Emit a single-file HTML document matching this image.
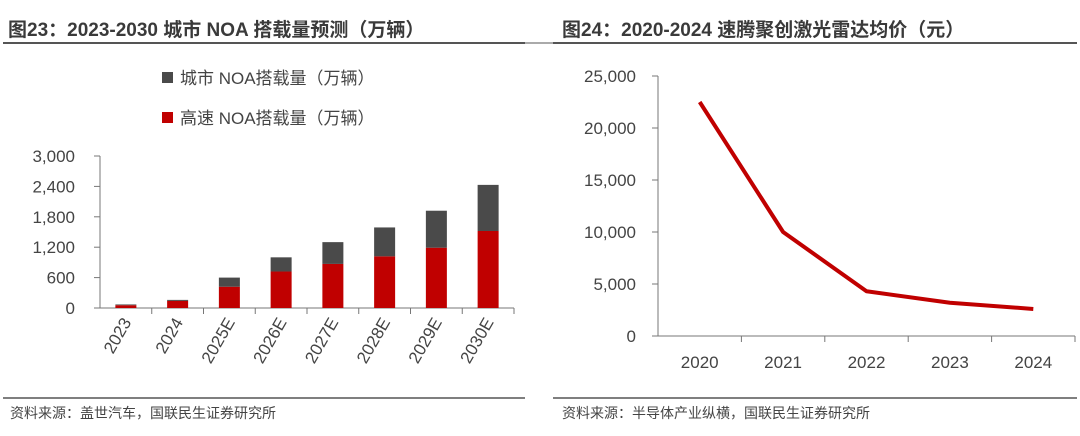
<!DOCTYPE html>
<html><head><meta charset="utf-8"><style>
body{margin:0;width:1080px;height:431px;background:#fff;font-family:"Liberation Sans","Noto Sans CJK SC",sans-serif;overflow:hidden}
svg text{font-family:"Liberation Sans","Noto Sans CJK SC",sans-serif}
</style></head><body>
<svg width="1080" height="431">
<text x="8" y="36" font-size="19" font-weight="bold" fill="#3a3a3a">图23：2023-2030 城市 NOA 搭载量预测（万辆）</text>
<line x1="3" y1="43" x2="525" y2="43" stroke="#555" stroke-width="2"/>
<line x1="525" y1="43" x2="553" y2="43" stroke="#555" stroke-width="1"/>
<text x="562" y="36" font-size="19" font-weight="bold" fill="#3a3a3a">图24：2020-2024 速腾聚创激光雷达均价（元）</text>
<line x1="553" y1="43" x2="1077" y2="43" stroke="#555" stroke-width="2"/>
<line x1="3" y1="398" x2="525" y2="398" stroke="#555" stroke-width="1.5"/>
<line x1="553" y1="398" x2="1077" y2="398" stroke="#555" stroke-width="1.5"/>
<text x="10" y="418" font-size="14" fill="#444">资料来源：盖世汽车，国联民生证券研究所</text>
<text x="562" y="418" font-size="14" fill="#444">资料来源：半导体产业纵横，国联民生证券研究所</text>
<g id="left"></g><g id="right"></g>
</svg>
<script>
const categories=["2023","2024","2025E","2026E","2027E","2028E","2029E","2030E"];
const highwayNOA=[55,140,420,720,870,1020,1190,1520];
const cityNOA=[15,20,180,280,430,570,730,910];
const leftTicks=[0,600,1200,1800,2400,3000];
const years=["2020","2021","2022","2023","2024"];
const prices=[22500,10000,4300,3200,2600];
const rightTicks=[0,5000,10000,15000,20000,25000];
const NS="http://www.w3.org/2000/svg";
function mk(p,t,a,txt){const e=document.createElementNS(NS,t);for(const k in a)e.setAttribute(k,a[k]);if(txt!==undefined)e.textContent=txt;p.appendChild(e);return e;}
// left chart
const L=document.getElementById('left');
const ly=v=>308-v/3000*152, x0=100, step=51.75;
const lx=i=>x0+step*(i+0.5);
let ax=mk(L,'line',{x1:x0,y1:156,x2:x0,y2:308,stroke:'#777'});

ax=mk(L,'line',{x1:x0-6,y1:308,x2:x0+step*8,y2:308,stroke:'#777'});

leftTicks.forEach(t=>{mk(L,'line',{x1:x0-6,y1:ly(t),x2:x0,y2:ly(t),stroke:'#777'});
 const e=mk(L,'text',{x:x0-25,y:ly(t)+6,'font-size':17,fill:'#444','text-anchor':'end'},t.toLocaleString('en-US'));
 });
categories.forEach((c,i)=>{
 mk(L,'line',{x1:x0+step*(i+1),y1:308,x2:x0+step*(i+1),y2:314,stroke:'#777'});
 const h=mk(L,'rect',{x:lx(i)-10.5,y:ly(highwayNOA[i]),width:21,height:308-ly(highwayNOA[i]),fill:'#c00000'});
 
 const top=highwayNOA[i]+cityNOA[i];
 const r=mk(L,'rect',{x:lx(i)-10.5,y:ly(top),width:21,height:ly(highwayNOA[i])-ly(top),fill:'#4a4a4a'});
 
 const t=mk(L,'text',{x:lx(i)+6,y:322,'font-size':17,fill:'#444','text-anchor':'end',transform:`rotate(-60 ${lx(i)+6} 322)`},c);
 
});
let g=mk(L,'rect',{x:162,y:72,width:11,height:11,fill:'#4a4a4a'});
g=mk(L,'text',{x:180,y:84,'font-size':17,fill:'#444'},'城市 NOA搭载量（万辆）');
g=mk(L,'rect',{x:162,y:112,width:11,height:11,fill:'#c00000'});
g=mk(L,'text',{x:180,y:124,'font-size':17,fill:'#444'},'高速 NOA搭载量（万辆）');
// right chart
const R=document.getElementById('right');
const ry=v=>336-v/25000*260, rx0=658, rstep=83.4;
const rx=i=>rx0+rstep*(i+0.5);
ax=mk(R,'line',{x1:rx0,y1:76,x2:rx0,y2:336,stroke:'#777'});

ax=mk(R,'line',{x1:rx0-6,y1:336,x2:rx0+rstep*5,y2:336,stroke:'#777'});

rightTicks.forEach(t=>{mk(R,'line',{x1:rx0-6,y1:ry(t),x2:rx0,y2:ry(t),stroke:'#777'});
 const e=mk(R,'text',{x:rx0-22,y:ry(t)+6,'font-size':17,fill:'#444','text-anchor':'end'},t.toLocaleString('en-US'));
 });
years.forEach((y,i)=>{mk(R,'line',{x1:rx0+rstep*(i+1),y1:336,x2:rx0+rstep*(i+1),y2:342,stroke:'#777'});
 const e=mk(R,'text',{x:rx(i),y:368,'font-size':17,fill:'#444','text-anchor':'middle'},y);
 });
const pl=mk(R,'polyline',{points:prices.map((v,i)=>rx(i)+','+ry(v)).join(' '),fill:'none',stroke:'#c00000','stroke-width':4,'stroke-linejoin':'round'});

</script>
</body></html>
